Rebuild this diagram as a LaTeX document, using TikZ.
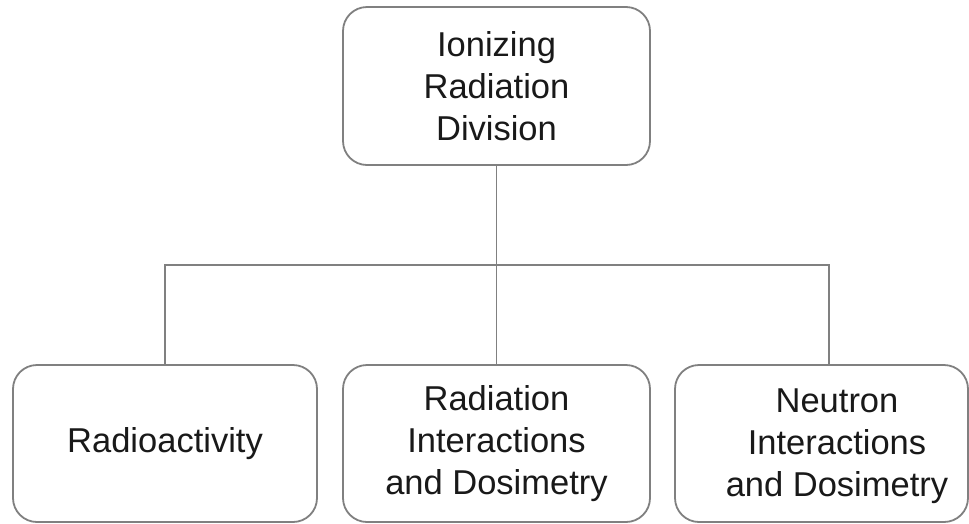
\documentclass[tikz,border=0pt]{standalone}
\usepackage{fontspec}
\setmainfont{Liberation Sans}
\definecolor{boxgray}{HTML}{808080}
\begin{document}
\begin{tikzpicture}[x=1pt,y=-1pt,
  box/.style={draw=boxgray, line width=1.8pt, rounded corners=24pt, fill=white, inner sep=0pt},
  lbl/.style={align=center, font=\fontsize{34.5}{42}\selectfont, text=black!90},
  conn/.style={draw=boxgray, line width=1.8pt}]
\useasboundingbox (0,0) rectangle (969,523);
\fill[white] (0,0) rectangle (969,523);
\node[box, lbl, minimum width=307pt, minimum height=158pt] (top) at (496.5,86) {Ionizing\\Radiation\\Division};
\node[box, lbl, minimum width=304pt, minimum height=157pt] (left) at (165,443.5) {Radioactivity};
\node[box, lbl, minimum width=307pt, minimum height=157pt] (mid) at (496.5,443.5) {Radiation\\Interactions\\and Dosimetry};
\node[box, minimum width=293pt, minimum height=157pt] (right) at (821.5,443.5) {};
\node[lbl, inner sep=0pt] (rightlbl) at (837,446) {Neutron\\Interactions\\and Dosimetry};
\coordinate (j) at (496.5,265);
\coordinate (rtop) at (829,365);
\draw[conn] (top.south) -- (j);
\draw[conn] (j) -- (mid.north);
\draw[conn] (left.north) |- (j) -| (rtop);
\end{tikzpicture}
\end{document}
